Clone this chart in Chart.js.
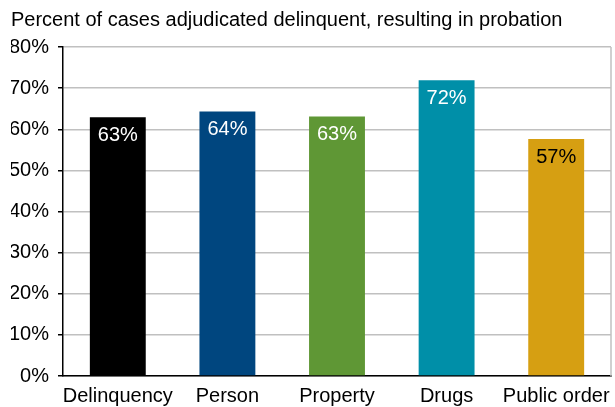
<!DOCTYPE html>
<html lang="en">
<head>
  <meta charset="UTF-8">
  <title>Probation share</title>
  <script src="https://cdn.jsdelivr.net/npm/chart.js"></script>
  <style>
    body { margin: 0; background: #fff; }
    #wrap { width: 615px; height: 407px; }
  </style>
</head>
<body>
  <div id="wrap"><canvas id="chart"></canvas></div>
  <script>
    const categories = ['Delinquency', 'Person', 'Property', 'Drugs', 'Public order'];
    const values = [62.9, 64.3, 63.1, 71.9, 57.6];
    const valueLabels = ['63%', '64%', '63%', '72%', '57%'];
    const barColors = ['#000000', '#00467f', '#5f9735', '#008fa8', '#d69f12'];
    const labelColors = ['#ffffff', '#ffffff', '#ffffff', '#ffffff', '#000000'];

    const FONT = 'Liberation Sans, Arial, Helvetica, sans-serif';

    // labels inside the top of each bar + gray right border
    const extras = {
      id: 'extras',
      afterDatasetsDraw(chart) {
        const ctx = chart.ctx;
        const meta = chart.getDatasetMeta(0);
        ctx.save();
        ctx.font = '20px ' + FONT;
        ctx.textAlign = 'center';
        ctx.textBaseline = 'middle';
        meta.data.forEach((bar, i) => {
          ctx.fillStyle = labelColors[i];
          ctx.fillText(valueLabels[i], bar.x, bar.y + 18);
        });
        const a = chart.chartArea;
        ctx.strokeStyle = '#c0c0c0';
        ctx.lineWidth = 1.5;
        ctx.beginPath();
        ctx.moveTo(a.right, a.top);
        ctx.lineTo(a.right, a.bottom);
        ctx.stroke();
        ctx.restore();
      }
    };

    new Chart(document.getElementById('chart'), {
      type: 'bar',
      data: {
        labels: categories,
        datasets: [{
          data: values,
          backgroundColor: barColors,
          categoryPercentage: 1,
          barPercentage: 0.51
        }]
      },
      options: {
        responsive: true,
        maintainAspectRatio: false,
        animation: false,
        layout: { padding: { left: 11, right: 4, top: 0, bottom: 0 } },
        plugins: {
          legend: { display: false },
          tooltip: { enabled: false },
          title: {
            display: true,
            text: 'Percent of cases adjudicated delinquent, resulting in probation',
            align: 'start',
            color: '#000',
            font: { family: FONT, size: 20, weight: 'normal' },
            padding: { top: 8, bottom: 15 }
          }
        },
        scales: {
          x: {
            grid: { display: false },
            border: { color: '#000', width: 1.5 },
            ticks: { color: '#000', font: { family: FONT, size: 20 }, padding: 0, maxRotation: 0, autoSkip: false },
            afterFit(scale) { scale.height = 31; }
          },
          y: {
            min: 0,
            max: 80,
            ticks: {
              stepSize: 10,
              color: '#000',
              font: { family: FONT, size: 20 },
              padding: 9,
              callback: v => v + '%'
            },
            grid: { color: '#c0c0c0', lineWidth: 1.5, tickColor: '#000', tickLength: 5 },
            border: { color: '#000', width: 1.5 },
            afterFit(scale) { scale.width = 52; }
          }
        }
      },
      plugins: [extras]
    });
  </script>
</body>
</html>
